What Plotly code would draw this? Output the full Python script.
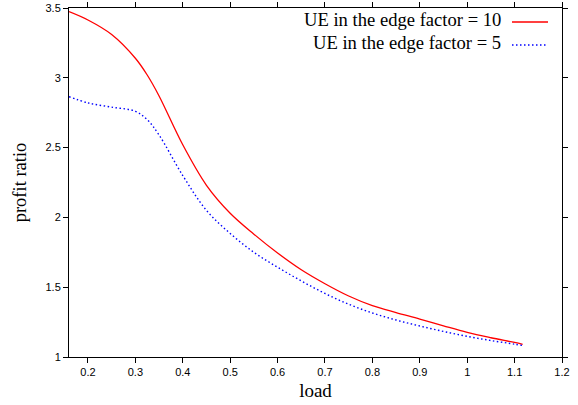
import plotly.graph_objects as go

load = [0.16, 0.2, 0.25, 0.3, 0.325, 0.35, 0.4, 0.45, 0.5, 0.55, 0.6, 0.65, 0.7,
        0.75, 0.8, 0.85, 0.9, 0.95, 1.0, 1.05, 1.1, 1.117]
ratio_factor10 = [3.474, 3.414, 3.31, 3.14, 3.02, 2.87, 2.52, 2.23, 2.03, 1.88, 1.745,
                  1.625, 1.525, 1.437, 1.368, 1.318, 1.272, 1.223, 1.176, 1.138, 1.104, 1.091]
ratio_factor5 = [2.865, 2.82, 2.79, 2.76, 2.70, 2.59, 2.30, 2.05, 1.885, 1.75, 1.643,
                 1.545, 1.455, 1.378, 1.315, 1.265, 1.222, 1.183, 1.148, 1.118, 1.092, 1.082]

names = ["UE in the edge factor = 10", "UE in the edge factor = 5"]
x_ticks = [0.2, 0.3, 0.4, 0.5, 0.6, 0.7, 0.8, 0.9, 1, 1.1, 1.2]
x_ticktext = ["0.2", "0.3", "0.4", "0.5", "0.6", "0.7", "0.8", "0.9", "1", "1.1", "1.2"]
y_ticks = [1, 1.5, 2, 2.5, 3, 3.5]
y_ticktext = ["1", "1.5", "2", "2.5", "3", "3.5"]

fig = go.Figure()
fig.add_trace(go.Scatter(x=load, y=ratio_factor10, mode="lines", name=names[0],
                         line=dict(color="#ff0000", width=1.3, shape="spline", smoothing=1.0)))
fig.add_trace(go.Scatter(x=load, y=ratio_factor5, mode="lines", name=names[1],
                         line=dict(color="#0000ff", width=1.4, dash="1.5px,2.5px",
                                   shape="spline", smoothing=1.0)))

serif = "Liberation Serif, Times New Roman, serif"
sans = "Liberation Sans, Arial, sans-serif"

fig.update_layout(
    width=578, height=405,
    margin=dict(l=69, r=16, t=8, b=48),
    paper_bgcolor="white", plot_bgcolor="white",
    showlegend=False,
    xaxis=dict(range=[0.16, 1.2], tickvals=x_ticks, ticktext=x_ticktext,
               automargin=False,
               showgrid=False, zeroline=False, showline=True, linecolor="black",
               linewidth=1, mirror="ticks", ticks="outside", ticklen=5,
               tickcolor="black", tickfont=dict(family=sans, size=11, color="black"),
               title=dict(text="load", font=dict(family=serif, size=19, color="black"),
                          standoff=6)),
    yaxis=dict(range=[1, 3.5], tickvals=y_ticks, ticktext=y_ticktext,
               automargin=False,
               showgrid=False, zeroline=False, showline=True, linecolor="black",
               linewidth=1, mirror="ticks", ticks="outside", ticklen=5,
               tickcolor="black", tickfont=dict(family=sans, size=11, color="black"),
               title=dict(text="profit ratio", font=dict(family=serif, size=18.5, color="black"),
                          standoff=14)),
)

# legend drawn gnuplot-style: right-aligned text with line sample at right
pl, pr, pt, pb = 69, 562, 8, 357
def px_to_paper(xp, yp):
    return (xp - pl) / (pr - pl), (pb - yp) / (pb - pt)

legend_rows = [(names[0], 19, "#ff0000", "solid", 1.3), (names[1], 42, "#0000ff", "1.5px,2.5px", 1.4)]
for text, yc, col, dash, w in legend_rows:
    xt, yt = px_to_paper(503, yc)
    fig.add_annotation(x=xt, y=yt, xref="paper", yref="paper", text=text,
                       showarrow=False, xanchor="right", yanchor="middle",
                       font=dict(family=serif, size=18.6, color="black"))
    x0, y0 = px_to_paper(512, yc + 3)
    x1, _ = px_to_paper(548, yc + 3)
    fig.add_shape(type="line", xref="paper", yref="paper", x0=x0, x1=x1, y0=y0, y1=y0,
                  line=dict(color=col, width=w, dash=dash))

fig.write_html("out.html", post_script="document.body.style.margin='0';",
               config={"displayModeBar": False})
